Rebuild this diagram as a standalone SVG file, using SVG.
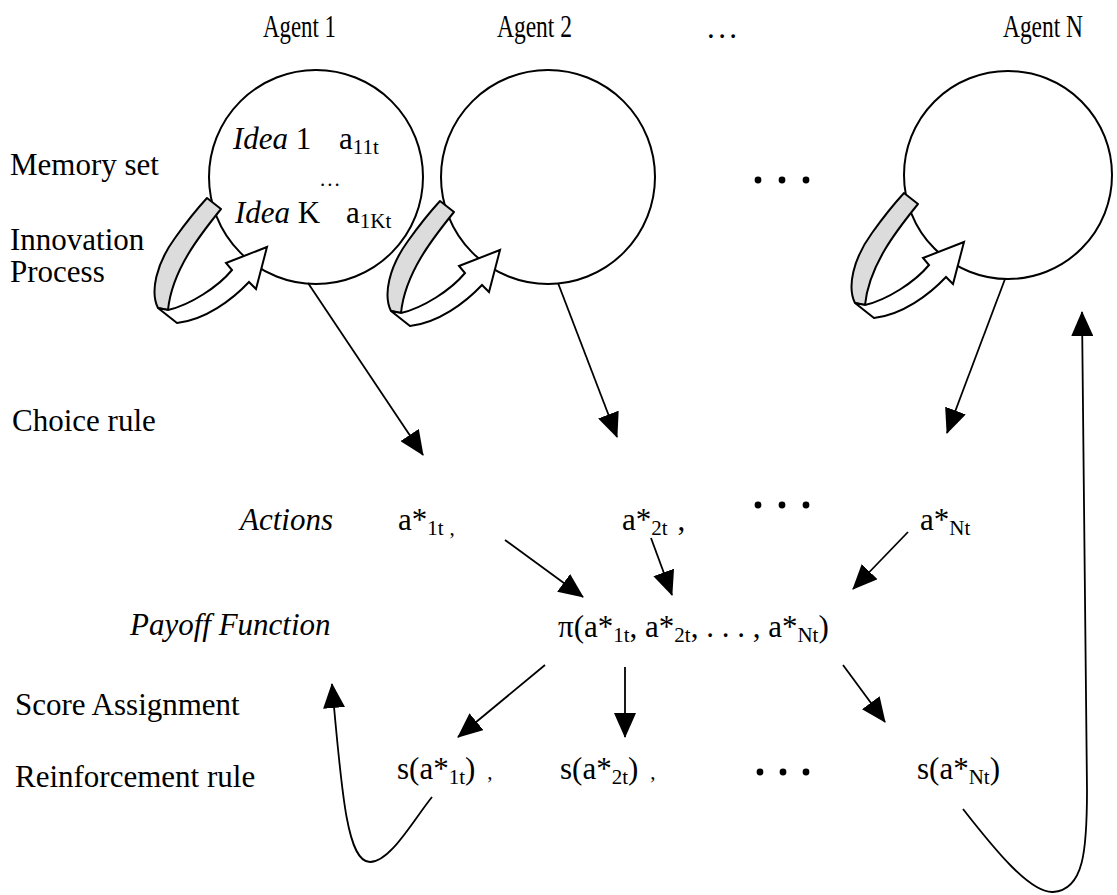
<svg xmlns="http://www.w3.org/2000/svg" width="1117" height="895" viewBox="0 0 1117 895">
<style>
  text { font-family: "Liberation Serif", "Times New Roman", serif; fill: #000; }
  .lbl { font-size: 31px; }
  .agent { font-size: 31px; }
  .it { font-style: italic; }
  .math { font-size: 31px; }
  .sub { font-size: 21px; }
  .mem { fill: #fff; stroke: #000; stroke-width: 2; }
  .conn { fill: none; stroke: #000; stroke-width: 1.8; }
  .strip { fill: #dcdcdc; stroke: #000; stroke-width: 2; stroke-linejoin: round; }
  .face { fill: #fff; stroke: #000; stroke-width: 2; stroke-linejoin: miter; }
</style>
<defs>
  <marker id="head" markerUnits="userSpaceOnUse" markerWidth="25" markerHeight="22" viewBox="0 0 25 22" refX="24" refY="11" orient="auto">
    <path d="M0,0 L25,11 L0,22 Z" fill="#000"/>
  </marker>
  <!-- curled innovation ribbon, drawn at the first agent's position -->
  <g id="ribbon">
    <path class="strip" d="M207,198 L221,209 C200,235 172,270 168,310 L158,308 C150,292 156,264 175,238 C185,224 196,210 207,198 Z"/>
    <path class="face" d="M168,310 C190,305 218,287 232,270 L226,263 L267,247 L256,289 L249,282 C232,300 205,320 177,323 L158,308 Z"/>
  </g>
</defs>

<rect width="1117" height="895" fill="#fff"/>

<!-- row labels -->
<g id="row-labels">
  <text class="lbl" x="10" y="175">Memory set</text>
  <text class="lbl" x="10" y="250">Innovation</text>
  <text class="lbl" x="10" y="282">Process</text>
  <text class="lbl" x="12" y="431">Choice rule</text>
  <text class="lbl it" x="240" y="530">Actions</text>
  <text class="lbl it" x="130" y="635">Payoff Function</text>
  <text class="lbl" x="15" y="715">Score Assignment</text>
  <text class="lbl" x="15" y="787">Reinforcement rule</text>
</g>

<!-- agent headings (narrow set) -->
<g id="agent-labels">
  <text class="agent" x="263" y="37" textLength="73" lengthAdjust="spacingAndGlyphs">Agent 1</text>
  <text class="agent" x="497" y="37" textLength="75" lengthAdjust="spacingAndGlyphs">Agent 2</text>
  <text class="agent" x="707" y="38" textLength="30" lengthAdjust="spacing">...</text>
  <text class="agent" x="1003" y="37" textLength="80" lengthAdjust="spacingAndGlyphs">Agent N</text>
</g>

<!-- agent 1 -->
<g id="agent1">
  <circle class="mem" cx="316" cy="177" r="107"/>
  <text class="math" x="233" y="149"><tspan class="it">Idea</tspan> 1</text>
  <text class="math" x="339" y="149">a<tspan class="sub" dy="5">11t</tspan></text>
  <text class="sub" x="320" y="186" letter-spacing="2">...</text>
  <text class="math" x="235" y="223"><tspan class="it">Idea</tspan> K</text>
  <text class="math" x="346" y="223">a<tspan class="sub" dy="5">1Kt</tspan></text>
  <use href="#ribbon"/>
</g>

<!-- agent 2 -->
<g id="agent2">
  <circle class="mem" cx="548" cy="177" r="107"/>
  <use href="#ribbon" transform="translate(233,3)"/>
</g>

<!-- ellipsis between agents -->
<g id="agents-gap">
  <circle cx="758" cy="180" r="3.4"/>
  <circle cx="782" cy="180" r="3.4"/>
  <circle cx="806" cy="180" r="3.4"/>
</g>

<!-- agent N -->
<g id="agentN">
  <circle class="mem" cx="1008" cy="175" r="104"/>
  <use href="#ribbon" transform="translate(697,-5)"/>
</g>

<!-- chosen actions -->
<g id="actions">
  <text class="math" x="398" y="530">a*<tspan class="sub" dy="5">1t</tspan><tspan class="sub" dx="6">,</tspan></text>
  <text class="math" x="622" y="530">a*<tspan class="sub" dy="5">2t</tspan><tspan dx="10" dy="-5">,</tspan></text>
  <circle cx="758" cy="505" r="3.4"/>
  <circle cx="782" cy="505" r="3.4"/>
  <circle cx="806" cy="505" r="3.4"/>
  <text class="math" x="920" y="530">a*<tspan class="sub" dy="5">Nt</tspan></text>
</g>

<!-- payoff function -->
<g id="payoff">
  <text class="math" x="558" y="637">π(a*<tspan class="sub" dy="5">1t</tspan><tspan dy="-5">, a*</tspan><tspan class="sub" dy="5">2t</tspan><tspan dy="-5">, . . . , a*</tspan><tspan class="sub" dy="5">Nt</tspan><tspan dy="-5">)</tspan></text>
</g>

<!-- scores -->
<g id="scores">
  <text class="math" x="397" y="779">s(a*<tspan class="sub" dy="5">1t</tspan><tspan dy="-5">)</tspan><tspan class="sub" dx="12">,</tspan></text>
  <text class="math" x="560" y="779">s(a*<tspan class="sub" dy="5">2t</tspan><tspan dy="-5">)</tspan><tspan class="sub" dx="12">,</tspan></text>
  <circle cx="760" cy="772" r="3.4"/>
  <circle cx="783" cy="772" r="3.4"/>
  <circle cx="806" cy="772" r="3.4"/>
  <text class="math" x="917" y="779">s(a*<tspan class="sub" dy="5">Nt</tspan><tspan dy="-5">)</tspan></text>
</g>

<!-- connectors -->
<g id="connectors">
  <path class="conn" marker-end="url(#head)" d="M308,283 L423,455"/>
  <path class="conn" marker-end="url(#head)" d="M558,283 L617,437"/>
  <path class="conn" marker-end="url(#head)" d="M1005,279 L947,433"/>
  <path class="conn" marker-end="url(#head)" d="M505,540 L583,597"/>
  <path class="conn" marker-end="url(#head)" d="M651,538 L672,595"/>
  <path class="conn" marker-end="url(#head)" d="M908,532 L853,589"/>
  <path class="conn" marker-end="url(#head)" d="M545,665 L458,737"/>
  <path class="conn" marker-end="url(#head)" d="M625,667 L625,737"/>
  <path class="conn" marker-end="url(#head)" d="M843,665 L885,722"/>
  <path class="conn" marker-end="url(#head)" d="M432,797 C412,822 390,862 370,862 C348,862 342,800 332,684"/>
  <path class="conn" marker-end="url(#head)" d="M963,809 C995,850 1030,893 1053,892 C1084,890 1087,850 1087,790 L1082,312"/>
</g>
</svg>
